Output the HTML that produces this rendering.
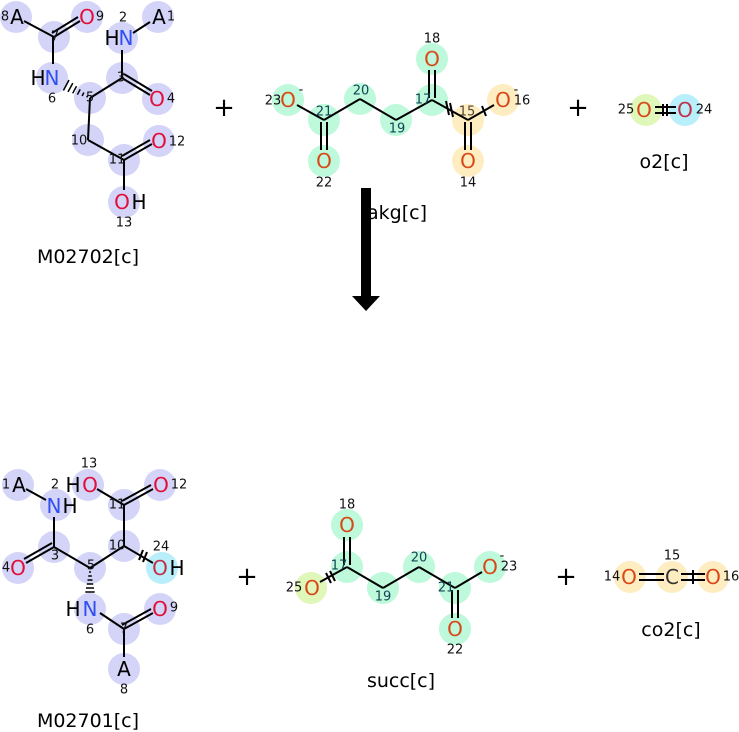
<!DOCTYPE html>
<html><head><meta charset="utf-8"><style>
html,body{margin:0;padding:0;background:#fff;width:739px;height:732px;overflow:hidden}
svg text{font-family:"DejaVu Sans","Liberation Sans",sans-serif}
.el{font-size:20px;text-anchor:middle;dominant-baseline:central}
.n{font-size:13px;text-anchor:middle;dominant-baseline:central;fill:#111}
.lab{font-size:19px;text-anchor:middle;fill:#000}
line{stroke:#000;stroke-width:2}
.h line{stroke-width:1.5}
.b{fill:#d4d4f8}.g{fill:#bdf9da}.y{fill:#fdedc0}.c{fill:#b8effa}.yg{fill:#dff7b9}
.O{fill:#e0103a}.Oo{fill:#d84818}.N{fill:#2f4ff0}
</style></head><body>
<svg width="739" height="732" viewBox="0 0 739 732">
<!-- M02702 -->
<g>
<circle class="b" cx="16" cy="17" r="16"/><circle class="b" cx="87" cy="17" r="16"/><circle class="b" cx="54" cy="37" r="16"/>
<circle class="b" cx="122" cy="38" r="16"/><circle class="b" cx="158" cy="17" r="16"/><circle class="b" cx="52" cy="78" r="16"/>
<circle class="b" cx="90" cy="98" r="16"/><circle class="b" cx="122" cy="78" r="16"/><circle class="b" cx="158" cy="99" r="16"/>
<circle class="b" cx="88" cy="140" r="16"/><circle class="b" cx="124" cy="160" r="16"/><circle class="b" cx="159" cy="141" r="16"/>
<circle class="b" cx="124" cy="202" r="16"/>
<line x1="24" y1="21" x2="54" y2="37"/><line x1="54" y1="37" x2="80" y2="21"/><line x1="52" y1="33" x2="78" y2="17"/>
<line x1="53" y1="37" x2="53" y2="64"/><line x1="133" y1="33" x2="150" y2="22"/><line x1="122" y1="50" x2="122" y2="78"/>
<line x1="122" y1="78" x2="90" y2="98"/><line x1="122" y1="78" x2="150" y2="95"/><line x1="124" y1="74" x2="152" y2="91"/>
<line x1="90" y1="98" x2="88" y2="140"/><line x1="88" y1="140" x2="124" y2="160"/><line x1="124" y1="160" x2="152" y2="144"/><line x1="122" y1="156" x2="150" y2="140"/>
<line x1="124" y1="160" x2="124" y2="190"/>
<g class="h">
<line x1="87.7" y1="95.6" x2="86.7" y2="97.4"/>
<line x1="83.9" y1="92.5" x2="82.1" y2="96"/>
<line x1="80.2" y1="89.4" x2="77.4" y2="94.6"/>
<line x1="76.5" y1="86.2" x2="72.7" y2="93.3"/>
<line x1="72.8" y1="83.1" x2="68" y2="91.9"/>
<line x1="69" y1="80" x2="63.4" y2="90.5"/>
</g>
<text class="el" x="17" y="17">A</text><text class="n" x="5" y="17">8</text>
<text class="el O" x="87" y="17">O</text><text class="n" x="100" y="17">9</text>
<text class="n" x="55" y="37">7</text>
<text class="el" x="112" y="38">H</text><text class="el N" x="126" y="38">N</text><text class="n" x="123" y="18">2</text>
<text class="el" x="159" y="17">A</text><text class="n" x="171" y="17">1</text>
<text class="el" x="38" y="78">H</text><text class="el N" x="52" y="78">N</text><text class="n" x="52" y="99">6</text>
<text class="n" x="90" y="98">5</text><text class="n" x="121" y="78">3</text>
<text class="el O" x="157" y="99">O</text><text class="n" x="171" y="99">4</text>
<text class="n" x="79" y="141">10</text><text class="n" x="117" y="160">11</text>
<text class="el O" x="159" y="141">O</text><text class="n" x="177" y="142">12</text>
<text class="el O" x="122" y="202">O</text><text class="el" x="139" y="202">H</text><text class="n" x="124" y="223">13</text>
<text class="lab" x="88" y="263">M02702[c]</text>
</g>
<text x="224" y="116" style="font-size:26px;text-anchor:middle">+</text>
<!-- akg -->
<g>
<circle class="g" cx="288" cy="100" r="16"/><circle class="g" cx="324" cy="120" r="16"/><circle class="g" cx="324" cy="161" r="16"/>
<circle class="g" cx="360" cy="99" r="16"/><circle class="g" cx="396" cy="120" r="16"/><circle class="g" cx="432" cy="100" r="16"/>
<circle class="g" cx="432" cy="59" r="16"/><circle class="y" cx="468" cy="120" r="16"/><circle class="y" cx="503" cy="100" r="16"/>
<circle class="y" cx="468" cy="161" r="16"/>
<line x1="297" y1="105" x2="324" y2="120"/><line x1="324" y1="120" x2="360" y2="99"/><line x1="360" y1="99" x2="396" y2="120"/>
<line x1="396" y1="120" x2="432" y2="100"/><line x1="432" y1="100" x2="468" y2="120"/><line x1="468" y1="120" x2="494" y2="105"/>
<line x1="321" y1="122" x2="321" y2="150"/><line x1="327" y1="122" x2="327" y2="150"/>
<line x1="429" y1="98" x2="429" y2="70"/><line x1="435" y1="98" x2="435" y2="70"/>
<line x1="465" y1="122" x2="465" y2="150"/><line x1="471" y1="122" x2="471" y2="150"/>
<line x1="446" y1="101" x2="449" y2="115"/><line x1="450" y1="103" x2="453" y2="117"/><line x1="482" y1="106" x2="486" y2="116"/>
<text class="el Oo" x="288" y="100">O</text><text class="n" x="301" y="90">-</text><text class="n" x="273" y="101">23</text>
<text class="n" x="324" y="112" style="fill:#145">21</text><text class="el Oo" x="324" y="161">O</text><text class="n" x="324" y="183">22</text>
<text class="n" x="361" y="91" style="fill:#145">20</text><text class="n" x="397" y="129" style="fill:#145">19</text>
<text class="n" x="423" y="100" style="fill:#145">17</text><text class="el Oo" x="432" y="59">O</text><text class="n" x="432" y="39">18</text>
<text class="n" x="467" y="112" style="fill:#543">15</text><text class="el Oo" x="503" y="100">O</text><text class="n" x="516" y="90">-</text><text class="n" x="522" y="101">16</text>
<text class="el Oo" x="468" y="161">O</text><text class="n" x="468" y="183">14</text>
</g>
<text x="578" y="116" style="font-size:26px;text-anchor:middle">+</text>
<!-- o2 -->
<circle class="yg" cx="646" cy="110" r="16"/><circle class="c" cx="685" cy="110" r="16"/>
<line x1="655" y1="107" x2="676" y2="107"/><line x1="655" y1="113" x2="676" y2="113"/>
<line x1="663" y1="104" x2="663" y2="116"/><line x1="667" y1="104" x2="667" y2="116"/>
<text class="el Oo" x="644" y="110">O</text><text class="n" x="626" y="110">25</text>
<text class="el" style="fill:#c03048" x="685" y="110">O</text><text class="n" x="704" y="110">24</text>
<text class="lab" x="664" y="168">o2[c]</text>
<!-- arrow -->
<rect x="361" y="188" width="10" height="108" fill="#000"/>
<path d="M352 296 L380 296 L366 311 Z" fill="#000"/>
<text class="lab" x="397" y="219">akg[c]</text>
<!-- M02701 -->
<g>
<circle class="b" cx="18" cy="485" r="16"/><circle class="b" cx="56" cy="505" r="16"/><circle class="b" cx="88" cy="485" r="16"/>
<circle class="b" cx="160" cy="485" r="16"/><circle class="b" cx="124" cy="505" r="16"/><circle class="b" cx="54" cy="547" r="16"/>
<circle class="b" cx="124" cy="546" r="16"/><circle class="b" cx="18" cy="568" r="16"/><circle class="b" cx="90" cy="568" r="16"/>
<circle class="c" cx="162" cy="568" r="16"/><circle class="b" cx="90" cy="609" r="16"/><circle class="b" cx="124" cy="629" r="16"/>
<circle class="b" cx="160" cy="609" r="16"/><circle class="b" cx="124" cy="669" r="16"/>
<line x1="26" y1="489" x2="46" y2="500"/><line x1="54" y1="517" x2="54" y2="547"/><line x1="54" y1="547" x2="90" y2="568"/>
<line x1="54" y1="547" x2="26" y2="563"/><line x1="52" y1="543" x2="24" y2="559"/>
<line x1="90" y1="568" x2="124" y2="546"/><line x1="124" y1="546" x2="124" y2="505"/><line x1="124" y1="505" x2="97" y2="489"/>
<line x1="124" y1="505" x2="153" y2="489"/><line x1="122" y1="501" x2="151" y2="485"/>
<line x1="124" y1="546" x2="153" y2="563"/><line x1="143" y1="550" x2="139" y2="560"/><line x1="147" y1="552" x2="143" y2="562"/>
<line x1="100" y1="613" x2="124" y2="629"/><line x1="124" y1="629" x2="153" y2="613"/><line x1="122" y1="625" x2="151" y2="609"/>
<line x1="124" y1="629" x2="124" y2="657"/>
<g class="h">
<line x1="89" y1="572" x2="91" y2="572"/><line x1="88.2" y1="576" x2="91.8" y2="576"/>
<line x1="87.5" y1="580" x2="92.5" y2="580"/><line x1="86.8" y1="584" x2="93.2" y2="584"/>
<line x1="86" y1="588" x2="94" y2="588"/><line x1="85.3" y1="592" x2="94.7" y2="592"/>
</g>
<text class="el" x="19" y="485">A</text><text class="n" x="6" y="485">1</text>
<text class="el N" x="54" y="506">N</text><text class="el" x="70" y="506">H</text><text class="n" x="55" y="485">2</text>
<text class="el" x="73" y="485">H</text><text class="el O" x="90" y="485">O</text><text class="n" x="89" y="464">13</text>
<text class="el O" x="161" y="485">O</text><text class="n" x="179" y="485">12</text>
<text class="n" x="117" y="505">11</text><text class="n" x="55" y="556">3</text><text class="n" x="117" y="546">10</text>
<text class="el O" x="18" y="568">O</text><text class="n" x="6" y="568">4</text>
<text class="n" x="91" y="566">5</text>
<text class="el" style="fill:#c03048" x="160" y="568">O</text><text class="el" x="177" y="568">H</text><text class="n" x="161" y="547">24</text>
<text class="el" x="73" y="609">H</text><text class="el N" x="90" y="609">N</text><text class="n" x="90" y="630">6</text>
<text class="n" x="124" y="629">7</text>
<text class="el O" x="160" y="609">O</text><text class="n" x="174" y="608">9</text>
<text class="el" x="124" y="669">A</text><text class="n" x="124" y="690">8</text>
<text class="lab" x="88" y="727">M02701[c]</text>
</g>
<text x="247" y="585" style="font-size:26px;text-anchor:middle">+</text>
<!-- succ -->
<g>
<circle class="g" cx="347" cy="525" r="16"/><circle class="g" cx="347" cy="567" r="16"/><circle class="yg" cx="311" cy="588" r="16"/>
<circle class="g" cx="383" cy="588" r="16"/><circle class="g" cx="419" cy="567" r="16"/><circle class="g" cx="455" cy="588" r="16"/>
<circle class="g" cx="490" cy="567" r="16"/><circle class="g" cx="455" cy="629" r="16"/>
<line x1="320" y1="582" x2="347" y2="567"/><line x1="347" y1="567" x2="383" y2="588"/><line x1="383" y1="588" x2="419" y2="567"/>
<line x1="419" y1="567" x2="455" y2="588"/><line x1="455" y1="588" x2="482" y2="572"/>
<line x1="344" y1="565" x2="344" y2="537"/><line x1="350" y1="565" x2="350" y2="537"/>
<line x1="452" y1="590" x2="452" y2="618"/><line x1="458" y1="590" x2="458" y2="618"/>
<line x1="326" y1="573" x2="331" y2="583"/><line x1="330" y1="571" x2="335" y2="581"/>
<text class="el Oo" x="347" y="525">O</text><text class="n" x="347" y="505">18</text>
<text class="n" x="339" y="566" style="fill:#145">17</text>
<text class="el Oo" x="312" y="588">O</text><text class="n" x="294" y="588">25</text>
<text class="n" x="383" y="597" style="fill:#145">19</text><text class="n" x="419" y="558" style="fill:#145">20</text>
<text class="n" x="446" y="588" style="fill:#145">21</text>
<text class="el Oo" x="490" y="567">O</text><text class="n" x="502" y="556">-</text><text class="n" x="509" y="567">23</text>
<text class="el Oo" x="455" y="629">O</text><text class="n" x="455" y="650">22</text>
<text class="lab" x="401" y="687">succ[c]</text>
</g>
<text x="566" y="585" style="font-size:26px;text-anchor:middle">+</text>
<!-- co2 -->
<circle class="y" cx="630" cy="577" r="16"/><circle class="y" cx="672" cy="577" r="16"/><circle class="y" cx="713" cy="577" r="16"/>
<line x1="639" y1="574" x2="664" y2="574"/><line x1="639" y1="580" x2="664" y2="580"/>
<line x1="681" y1="574" x2="705" y2="574"/><line x1="681" y1="580" x2="705" y2="580"/><line x1="693" y1="570" x2="693" y2="584"/>
<text class="el Oo" x="629" y="577">O</text><text class="n" x="612" y="577">14</text>
<text class="el" style="fill:#333" x="672" y="577">C</text><text class="n" x="672" y="556">15</text>
<text class="el Oo" x="713" y="577">O</text><text class="n" x="731" y="577">16</text>
<text class="lab" x="671" y="636">co2[c]</text>
</svg>
</body></html>
